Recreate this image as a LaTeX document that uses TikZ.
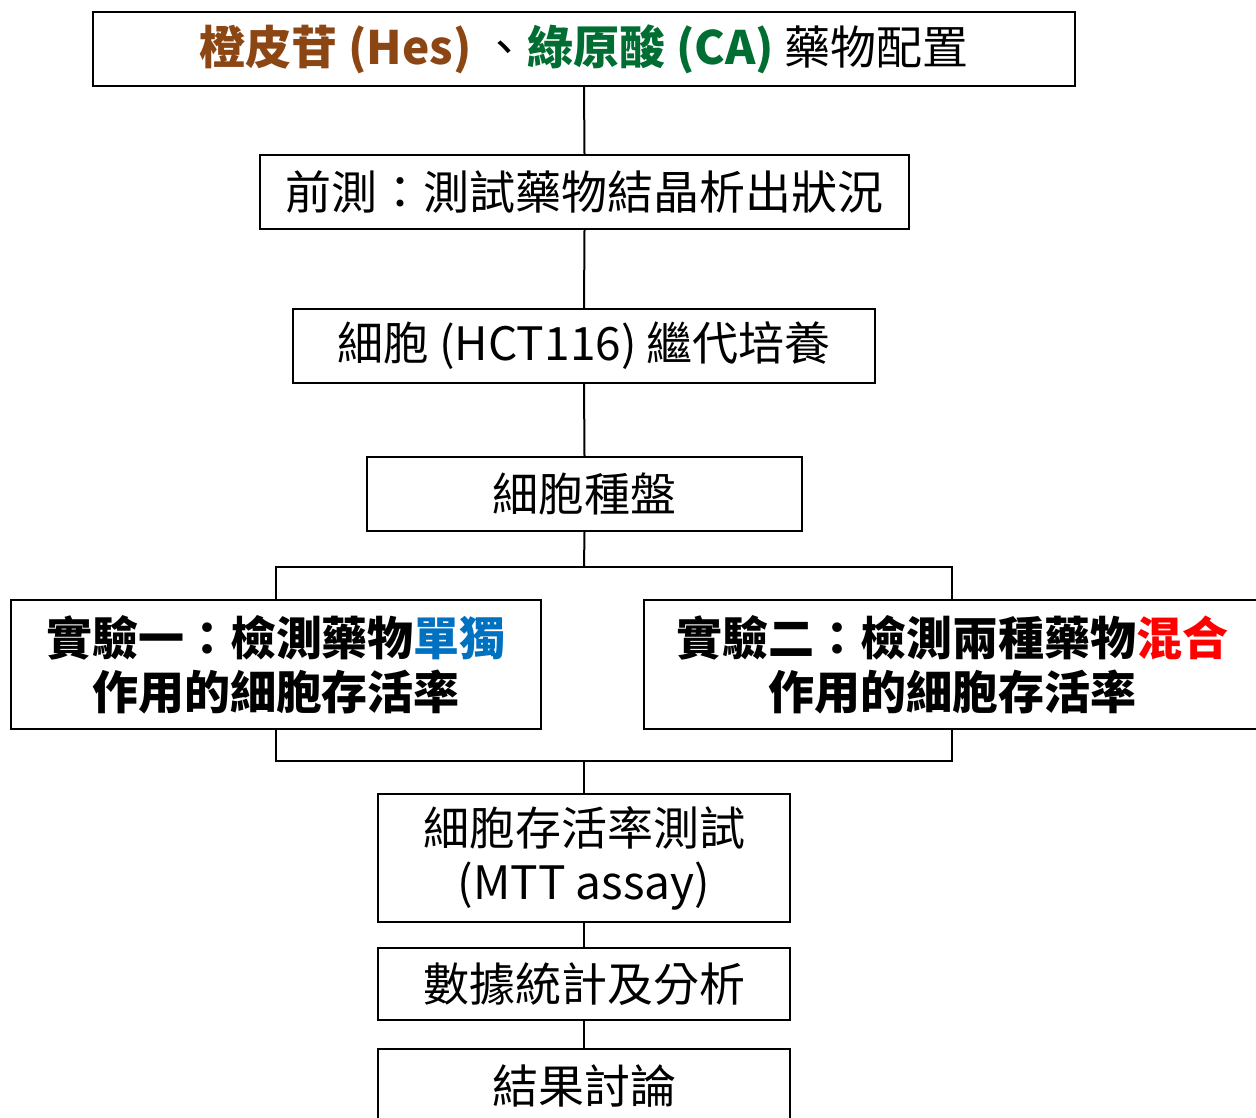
\documentclass[tikz,border=0pt]{standalone}
\usepackage{fontspec}
\setmainfont{Noto Sans CJK TC}
\definecolor{hescol}{RGB}{140,70,20}
\definecolor{cacol}{RGB}{0,110,50}
\definecolor{solo}{RGB}{0,112,192}
\definecolor{mixc}{RGB}{255,0,0}
\begin{document}
\begin{tikzpicture}[x=1pt,y=-1pt,
  box/.style={draw, line width=2pt, inner sep=0pt, align=center,
    font=\fontsize{46}{54}\selectfont},
  boldbox/.style={box, font=\fontsize{46}{54}\selectfont\bfseries},
  link/.style={line width=2pt}]
\clip (0,0) rectangle (1256,1117);
\node[box, minimum width=982pt, minimum height=74pt] (cfg) at (584,49)
  {{\bfseries\color{hescol}橙皮苷 (Hes)} 、{\bfseries\color{cacol}綠原酸 (CA)} 藥物配置};
\node[box, minimum width=649pt, minimum height=74pt] (pre) at (584.5,192)
  {前測：測試藥物結晶析出狀況};
\node[box, minimum width=582pt, minimum height=74pt] (cult) at (584,346)
  {細胞 (HCT116) 繼代培養};
\node[box, minimum width=435pt, minimum height=74pt] (plate) at (584.5,494)
  {細胞種盤};
\node[boldbox, minimum width=530pt, minimum height=129pt] (exp1) at (276,664.5)
  {實驗一：檢測藥物{\color{solo}單獨}\\作用的細胞存活率};
\node[boldbox, minimum width=616pt, minimum height=129pt] (exp2) at (952,664.5)
  {實驗二：檢測兩種藥物{\color{mixc}混合}\\作用的細胞存活率};
\node[box, minimum width=412pt, minimum height=128pt] (mtt) at (584,858)
  {細胞存活率測試\\(MTT assay)};
\node[box, minimum width=412pt, minimum height=72pt] (stat) at (584,984)
  {數據統計及分析};
\node[box, minimum width=412pt, minimum height=74pt] (disc) at (584,1086)
  {結果討論};
\coordinate (sp) at (584,567);
\coordinate (mg) at (584,761);
\draw[link] (cfg.south) -- (pre.north);
\draw[link] (pre.south) -- (cult.north);
\draw[link] (cult.south) -- (plate.north);
\draw[link] (plate.south) -- (sp);
\draw[link] (exp1.north) -- (exp1.north |- sp) -- (exp2.north |- sp) -- (exp2.north);
\draw[link] (exp1.south) -- (exp1.south |- mg) -- (exp2.south |- mg) -- (exp2.south);
\draw[link] (mg) -- (mtt.north);
\draw[link] (mtt.south) -- (stat.north);
\draw[link] (stat.south) -- (disc.north);
\end{tikzpicture}
\end{document}
